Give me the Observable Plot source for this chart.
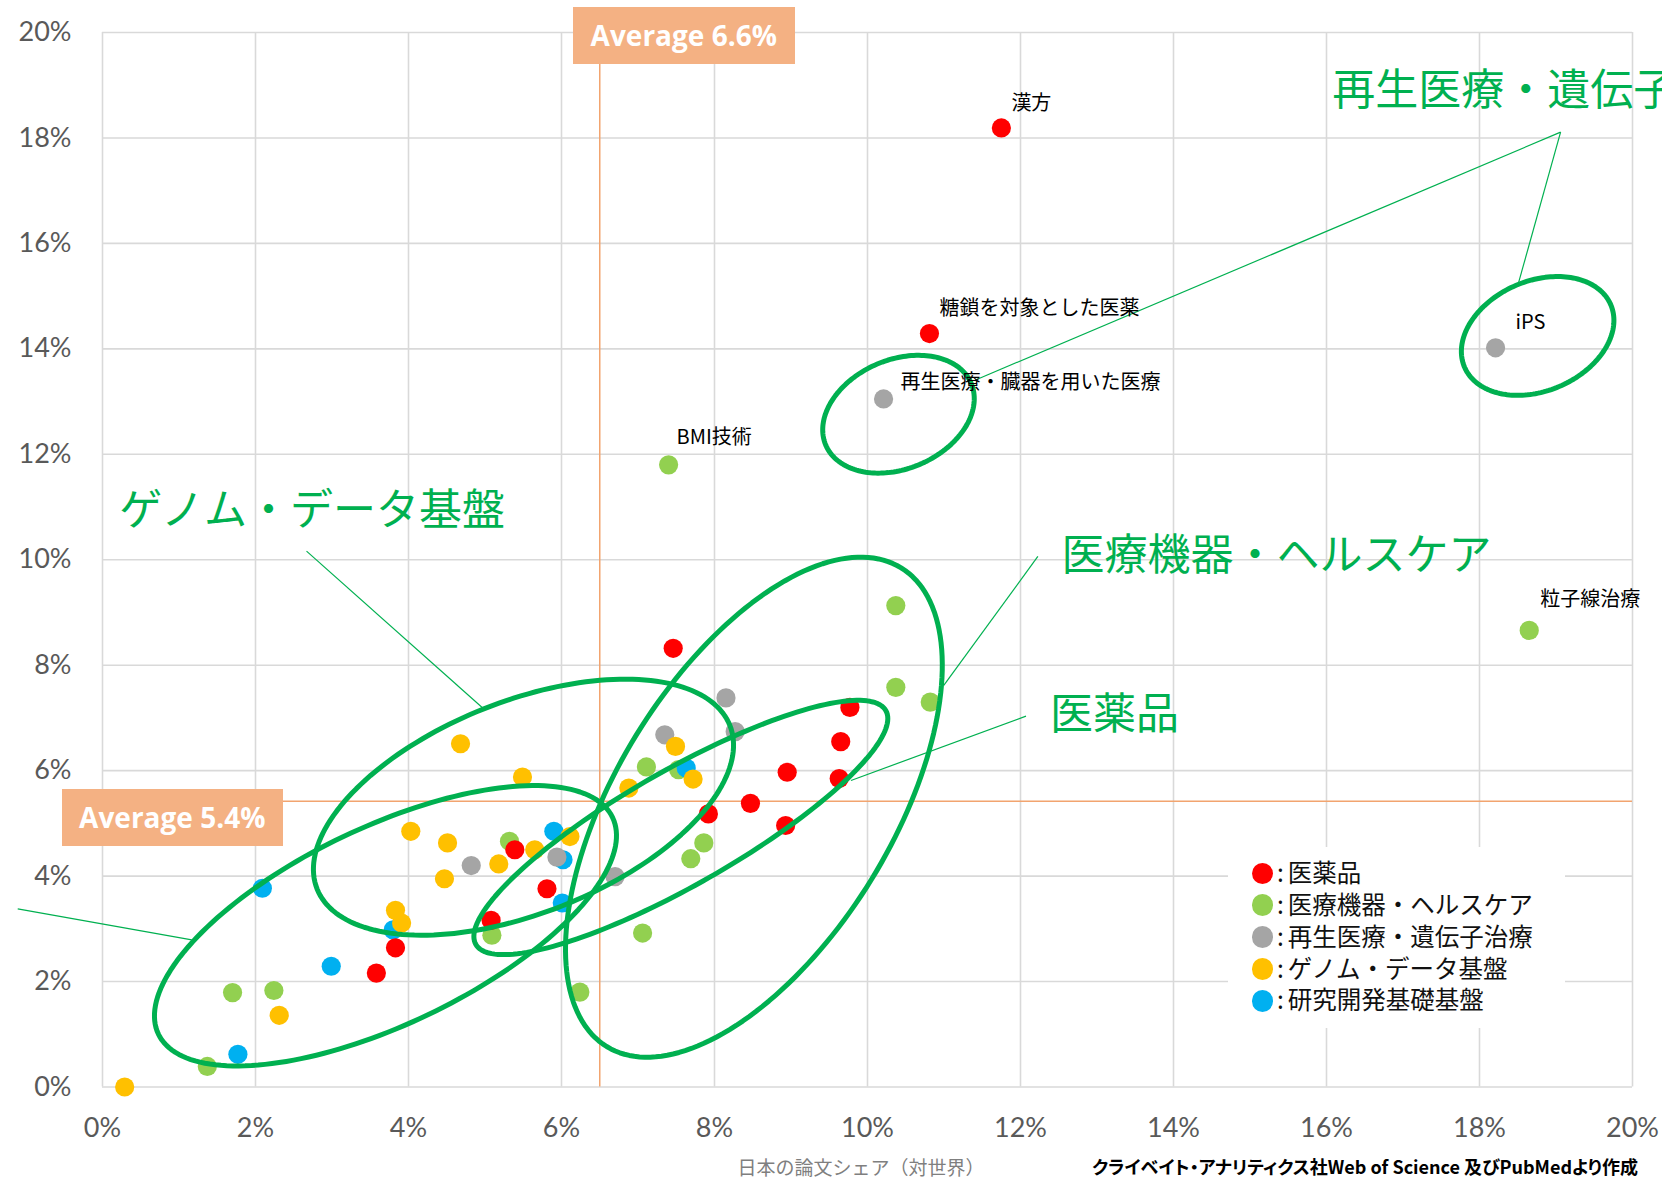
<!DOCTYPE html>
<html><head><meta charset="utf-8">
<script src="https://cdn.jsdelivr.net/npm/d3@7"></script>
<script src="https://cdn.jsdelivr.net/npm/@observablehq/plot@0.6"></script>
<style>
html,body{margin:0;padding:0;background:#fff;overflow:hidden;}
#wrap{position:relative;width:1662px;height:1179px;overflow:hidden;background:#fff;}
.cjk{font-family:"Noto Sans CJK JP","Noto Sans",sans-serif;}
.avg{position:absolute;background:#F4B183;color:#fff;font-family:"Open Sans",sans-serif;font-weight:700;font-size:28px;display:flex;align-items:center;justify-content:center;white-space:nowrap;}
.legend{position:absolute;background:#fff;}
.legend .dot{position:absolute;border-radius:50%;}
.legend .lab{position:absolute;white-space:nowrap;font-size:24.5px;line-height:32px;color:#111;}
.legend .colon{margin-right:4px;}
.note{position:absolute;white-space:nowrap;line-height:19px;}
</style></head>
<body><div id="wrap"></div>
<script>
// ---------------- data ----------------
const categories = ["医薬品", "医療機器・ヘルスケア", "再生医療・遺伝子治療", "ゲノム・データ基盤", "研究開発基礎基盤"];
const categoryColors = ["#FF0000", "#92D050", "#A5A5A5", "#FFC000", "#00B0F0"];

// 医薬品
const pharmaX = [11.75, 10.81, 7.46, 9.77, 9.65, 8.95, 9.63, 8.47, 7.92, 8.93, 5.39, 5.81, 5.08, 3.83, 3.58];
const pharmaY = [18.19, 14.29, 8.32, 7.20, 6.55, 5.97, 5.85, 5.38, 5.18, 4.96, 4.50, 3.76, 3.16, 2.64, 2.16];
const pharmaLabels = ["漢方", "糖鎖を対象とした医薬"];

// 医療機器・ヘルスケア
const deviceX = [7.40, 18.65, 10.37, 10.37, 10.82, 7.11, 7.53, 7.86, 7.69, 5.32, 7.06, 5.09, 6.24, 1.70, 2.24, 1.37];
const deviceY = [11.80, 8.66, 9.13, 7.58, 7.30, 6.07, 6.02, 4.63, 4.33, 4.66, 2.92, 2.88, 1.80, 1.79, 1.83, 0.39];
const deviceLabels = ["BMI技術", "粒子線治療"];

// 再生医療・遺伝子治療
const regenX = [18.21, 10.21, 8.15, 8.27, 7.35, 6.70, 4.82, 5.94];
const regenY = [14.02, 13.05, 7.38, 6.74, 6.68, 3.99, 4.20, 4.36];
const regenLabels = ["iPS", "再生医療・臓器を用いた医療"];

// ゲノム・データ基盤
const genomeX = [7.49, 7.72, 6.88, 4.68, 5.49, 4.03, 4.51, 5.18, 4.47, 5.65, 6.11, 3.83, 3.91, 2.31, 0.29];
const genomeY = [6.46, 5.84, 5.67, 6.51, 5.88, 4.85, 4.63, 4.23, 3.95, 4.50, 4.75, 3.35, 3.11, 1.36, 0.00];
const genomeLabels = [];

// 研究開発基礎基盤
const researchX = [7.63, 5.90, 6.02, 6.01, 3.80, 2.09, 2.99, 1.77];
const researchY = [6.05, 4.85, 4.31, 3.49, 2.98, 3.77, 2.29, 0.62];
const researchLabels = [];

const xTicks = [0, 2, 4, 6, 8, 10, 12, 14, 16, 18, 20];
const xTickLabels = ["0%", "2%", "4%", "6%", "8%", "10%", "12%", "14%", "16%", "18%", "20%"];
const yTicks = [0, 2, 4, 6, 8, 10, 12, 14, 16, 18, 20];
const yTickLabels = ["0%", "2%", "4%", "6%", "8%", "10%", "12%", "14%", "16%", "18%", "20%"];

const avgXLine = 6.5, avgXText = "Average 6.6%";
const avgYLine = 5.42, avgYText = "Average 5.4%";

const xAxisTitle = "日本の論文シェア（対世界）";
const sourceNote = "クライベイト・アナリティクス社Web of Science 及びPubMedより作成";

// ---------------- annotations (group outlines, callouts) ----------------
const ellipses = [
  {cx: 10.405, cy: 12.76, a: 79, b: 54.5, angle: 23},    // 再生医療・臓器
  {cx: 18.76, cy: 14.245, a: 79.5, b: 55, angle: 23},    // iPS
  {cx: 5.503, cy: 5.307, a: 222, b: 106, angle: 21.6},   // ゲノム・データ基盤
  {cx: 3.699, cy: 3.058, a: 251.6, b: 98.6, angle: 25.5},// 研究開発基礎基盤
  {cx: 8.515, cy: 5.307, a: 281, b: 138, angle: 58.4},   // 医療機器・ヘルスケア
  {cx: 7.560, cy: 4.922, a: 236, b: 57.5, angle: 29.7}   // 医薬品
];
const callouts = [
  {x1: 2.667, y1: 10.163, x2: 4.967, y2: 7.193},
  {x1: 12.227, y1: 10.063, x2: 10.997, y2: 7.616},
  {x1: 12.072, y1: 7.033, x2: 9.784, y2: 5.814},
  {x1: 19.06, y1: 18.11, x2: 18.51, y2: 15.25},
  {x1: 19.06, y1: 18.11, x2: 11.412, y2: 13.41},
  {x1: -1.108, y1: 3.380, x2: 1.167, y2: 2.792}
];
const groupTitles = [
  {text: "ゲノム・データ基盤", x: 0.22, y: 10.92},
  {text: "医療機器・ヘルスケア", x: 12.536, y: 10.063},
  {text: "医薬品", x: 12.387, y: 7.047},
  {text: "再生医療・遺伝子治療", x: 16.075, y: 18.88}
];
const labelOffsets = {
  "漢方": [10, -24], "糖鎖を対象とした医薬": [10, -25], "再生医療・臓器を用いた医療": [17, -16],
  "BMI技術": [8, -27], "iPS": [20, -25], "粒子線治療": [11, -31]
};

// ---------------- build ----------------
const W = 1662, H = 1179, ML = 102, MR = 30, MT = 32, MB = 92.5;
const xDomain = [0, 20], yDomain = [0, 20];
const kx = (W - ML - MR) / (xDomain[1] - xDomain[0]);
const ky = (H - MT - MB) / (yDomain[1] - yDomain[0]);

const seriesDefs = [
  {cat: categories[1], xs: deviceX, ys: deviceY, labels: deviceLabels},
  {cat: categories[4], xs: researchX, ys: researchY, labels: researchLabels},
  {cat: categories[0], xs: pharmaX, ys: pharmaY, labels: pharmaLabels},
  {cat: categories[2], xs: regenX, ys: regenY, labels: regenLabels},
  {cat: categories[3], xs: genomeX, ys: genomeY, labels: genomeLabels}
];
const points = seriesDefs.flatMap(s => s.xs.map((x, i) => ({cat: s.cat, x, y: s.ys[i], label: s.labels[i] || ""})));
const labeled = points.filter(d => d.label);

const ellipsePts = ellipses.flatMap((e, k) => d3.range(0, 181).map(i => {
  const t = i / 180 * 2 * Math.PI, th = e.angle * Math.PI / 180;
  const dx = e.a * Math.cos(t) * Math.cos(th) - e.b * Math.sin(t) * Math.sin(th);
  const dy = e.a * Math.cos(t) * Math.sin(th) + e.b * Math.sin(t) * Math.cos(th);
  return {id: k, x: e.cx + dx / kx, y: e.cy + dy / ky};
}));

const cjk = "Noto Sans CJK JP";
const fmtX = d => xTickLabels[xTicks.indexOf(d)];
const fmtY = d => yTickLabels[yTicks.indexOf(d)];

const chart = Plot.plot({
  width: W, height: H,
  marginLeft: ML, marginRight: MR, marginTop: MT, marginBottom: MB,
  x: {domain: xDomain},
  y: {domain: yDomain},
  color: {domain: categories, range: categoryColors},
  style: {background: "white", fontFamily: "Lato, sans-serif", fontSize: "27px", color: "#595959", overflow: "visible"},
  marks: [
    Plot.gridX(xTicks, {stroke: "#D9D9D9", strokeOpacity: 1, strokeWidth: 1.6}),
    Plot.gridY(yTicks, {stroke: "#D9D9D9", strokeOpacity: 1, strokeWidth: 1.6}),
    Plot.ruleX([avgXLine], {y1: yDomain[0], y2: yDomain[1], stroke: "#F2A46F", strokeWidth: 1.5}),
    Plot.ruleY([avgYLine], {x1: xDomain[0], x2: xDomain[1], stroke: "#F2A46F", strokeWidth: 1.5}),
    Plot.dot(points, {x: "x", y: "y", fill: "cat", r: 9.6, stroke: null}),
    Plot.axisX(xTicks, {tickFormat: fmtX, tickSize: 0, tickPadding: 31, label: null, fontSize: 27, fill: "#595959"}),
    Plot.axisY(yTicks, {tickFormat: fmtY, tickSize: 0, tickPadding: 31, label: null, fontSize: 27, fill: "#595959"}),
    Plot.line(ellipsePts, {x: "x", y: "y", z: "id", stroke: "#00B050", strokeWidth: 5, curve: "linear"}),
    Plot.link(callouts, {x1: "x1", y1: "y1", x2: "x2", y2: "y2", stroke: "#00B050", strokeWidth: 1.2}),
    ...labeled.map(d => Plot.text([d], {x: "x", y: "y", text: "label", dx: labelOffsets[d.label][0], dy: labelOffsets[d.label][1],
      textAnchor: "start", fontFamily: cjk, fontSize: 20, fill: "#000"})),
    Plot.text(groupTitles, {x: "x", y: "y", text: "text", textAnchor: "start", fontFamily: cjk, fontSize: 43, fill: "#00B050"})
  ]
});

const wrap = document.getElementById("wrap");
wrap.appendChild(chart);
const sx = chart.scale("x"), sy = chart.scale("y");

// average boxes
const box1 = document.createElement("div");
box1.className = "avg";
box1.textContent = avgXText;
box1.style.cssText += `left:${sx.apply(avgXLine) - 26.5}px;top:7px;width:222px;height:56.5px;`;
wrap.appendChild(box1);
const box2 = document.createElement("div");
box2.className = "avg";
box2.textContent = avgYText;
box2.style.cssText += `left:61.5px;top:${sy.apply(avgYLine) - 11.5}px;width:221.5px;height:56.5px;`;
wrap.appendChild(box2);

// legend
const legend = document.createElement("div");
legend.className = "legend cjk";
legend.style.cssText += "left:1228px;top:847px;width:337px;height:181px;";
categories.forEach((c, i) => {
  const cy = 26.3 + i * 31.9;
  const dot = document.createElement("div");
  dot.className = "dot";
  dot.style.cssText += `left:${34.3 - 10.8}px;top:${cy - 10.8}px;width:21.6px;height:21.6px;background:${categoryColors[i]};`;
  legend.appendChild(dot);
  const lab = document.createElement("div");
  lab.className = "lab";
  const colon = document.createElement("span");
  colon.className = "colon";
  colon.textContent = ":";
  lab.appendChild(colon);
  lab.appendChild(document.createTextNode(c));
  lab.style.cssText += `left:49px;top:${cy - 17.5}px;`;
  legend.appendChild(lab);
});
wrap.appendChild(legend);

// axis title & source
const xt = document.createElement("div");
xt.className = "note cjk";
xt.textContent = xAxisTitle;
xt.style.cssText += "left:861px;top:1156.5px;transform:translateX(-50%);font-size:19px;color:#7F7F7F;";
wrap.appendChild(xt);
const src = document.createElement("div");
src.className = "note cjk";
src.textContent = sourceNote;
src.style.cssText += "left:1092px;top:1157px;font-size:18px;font-weight:700;color:#000;font-feature-settings:'palt';";
wrap.appendChild(src);
</script>
</body></html>
